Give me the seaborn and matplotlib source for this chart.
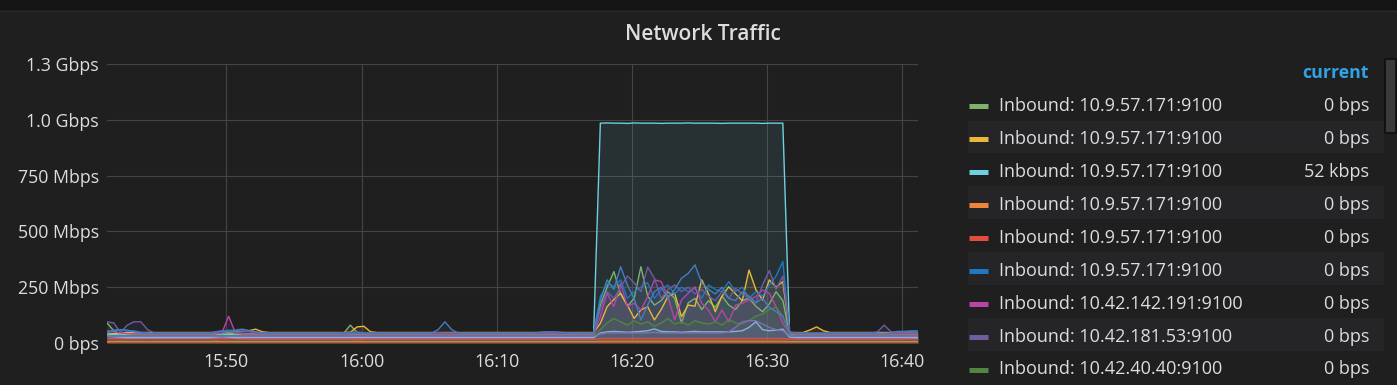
import numpy as np
import pandas as pd
import matplotlib
matplotlib.use("Agg")
import matplotlib.pyplot as plt
import matplotlib.dates as mdates
from matplotlib.patches import Rectangle
from matplotlib.lines import Line2D
import seaborn as sns

# ---------------- data (Mbps, one sample every 30 s) ----------------
times = pd.date_range("2018-06-01 15:41:10", periods=121, freq="30s")

green = [
    90, 55, 40, 38, 40, 42, 40, 38, 38, 38,
    38, 38, 38, 38, 38, 38, 42, 48, 44, 40,
    40, 42, 40, 38, 38, 38, 38, 38, 38, 38,
    38, 38, 38, 38, 38, 42, 80, 48, 40, 38,
    38, 38, 38, 38, 38, 38, 38, 38, 38, 38,
    38, 38, 38, 38, 38, 38, 38, 38, 38, 38,
    38, 38, 38, 38, 38, 40, 40, 38, 38, 38,
    38, 38, 38, 170, 250, 320, 220, 165, 200, 342,
    210, 170, 190, 230, 200, 90, 180, 200, 150, 190,
    160, 210, 170, 150, 190, 200, 165, 140, 175, 230,
    190, 40, 38, 38, 38, 38, 38, 38, 38, 38,
    38, 38, 38, 38, 38, 38, 38, 38, 38, 38,
    40]
yellow = [
    40, 42, 44, 47, 47, 47, 47, 47, 47, 47,
    47, 47, 47, 47, 47, 47, 47, 50, 48, 50,
    52, 55, 62, 50, 47, 47, 47, 47, 47, 47,
    47, 47, 47, 47, 47, 47, 48, 72, 75, 50,
    47, 47, 47, 47, 47, 47, 47, 47, 47, 47,
    47, 47, 47, 47, 47, 47, 47, 47, 47, 47,
    47, 47, 47, 47, 47, 47, 47, 47, 47, 47,
    47, 47, 47, 88, 163, 195, 223, 170, 110, 148,
    163, 103, 150, 208, 223, 118, 170, 165, 283, 220,
    140, 210, 252, 220, 190, 327, 240, 193, 283, 250,
    275, 47, 47, 47, 58, 72, 55, 47, 47, 47,
    47, 47, 47, 47, 47, 47, 47, 47, 47, 47,
    47]
cyan = [
    36, 38, 40, 38, 36, 36, 36, 36, 36, 36,
    36, 36, 36, 36, 36, 36, 38, 40, 38, 36,
    36, 36, 36, 36, 36, 36, 36, 36, 36, 36,
    36, 36, 36, 36, 36, 36, 36, 38, 36, 36,
    36, 36, 36, 36, 36, 36, 36, 36, 36, 36,
    36, 36, 36, 36, 36, 36, 36, 36, 36, 36,
    36, 36, 36, 36, 36, 36, 36, 36, 36, 36,
    36, 36, 38, 985, 986, 985, 985, 984, 986, 985,
    985, 985, 984, 985, 985, 985, 986, 985, 985, 985,
    985, 984, 985, 985, 985, 985, 985, 984, 985, 985,
    985, 40, 36, 36, 36, 36, 36, 36, 36, 36,
    36, 36, 36, 36, 36, 36, 36, 36, 36, 36,
    36]
orange = [
    6, 6, 7, 6, 6, 6, 5, 6, 6, 6,
    6, 6, 6, 6, 6, 6, 7, 6, 6, 6,
    6, 6, 6, 6, 6, 6, 6, 6, 6, 6,
    6, 6, 6, 6, 6, 6, 6, 7, 6, 6,
    6, 6, 6, 6, 6, 6, 6, 6, 6, 6,
    6, 6, 6, 6, 6, 6, 6, 6, 6, 6,
    6, 6, 6, 6, 6, 6, 6, 6, 6, 6,
    6, 6, 6, 7, 7, 7, 7, 7, 7, 7,
    7, 7, 7, 7, 7, 7, 7, 7, 7, 7,
    7, 7, 7, 7, 7, 7, 7, 7, 7, 7,
    7, 6, 6, 6, 6, 6, 6, 6, 6, 6,
    6, 6, 6, 6, 6, 6, 6, 6, 6, 6,
    6]
red = [
    20, 20, 20, 20, 20, 20, 20, 20, 20, 20,
    20, 20, 20, 20, 20, 20, 20, 20, 20, 20,
    18, 17, 17, 17, 17, 17, 17, 17, 17, 17,
    17, 17, 17, 17, 17, 17, 17, 17, 17, 17,
    17, 17, 17, 17, 17, 17, 17, 17, 17, 17,
    17, 17, 17, 17, 17, 17, 17, 17, 17, 17,
    17, 17, 17, 17, 17, 17, 17, 17, 17, 17,
    17, 17, 17, 20, 20, 20, 20, 20, 20, 20,
    20, 20, 20, 20, 20, 20, 20, 20, 20, 20,
    20, 20, 20, 20, 20, 20, 20, 20, 20, 20,
    20, 17, 17, 17, 17, 17, 17, 17, 17, 17,
    17, 17, 17, 17, 17, 17, 17, 17, 18, 18,
    18]
blue = [
    50, 58, 60, 52, 55, 48, 44, 42, 42, 42,
    42, 42, 42, 42, 42, 42, 48, 52, 58, 55,
    60, 52, 48, 44, 42, 42, 42, 42, 42, 42,
    42, 42, 42, 42, 42, 42, 44, 46, 44, 42,
    42, 42, 42, 42, 42, 42, 42, 42, 42, 42,
    42, 42, 42, 42, 42, 42, 42, 42, 42, 42,
    42, 42, 42, 42, 46, 48, 48, 46, 44, 42,
    42, 42, 42, 208, 267, 252, 283, 200, 230, 250,
    270, 200, 240, 260, 220, 250, 230, 245, 200, 260,
    240, 230, 275, 230, 250, 200, 230, 210, 260, 300,
    365, 44, 42, 42, 42, 42, 42, 42, 42, 42,
    42, 42, 42, 42, 42, 42, 42, 50, 50, 52,
    52]
magenta = [
    55, 50, 45, 42, 40, 40, 40, 40, 40, 40,
    40, 40, 40, 40, 40, 40, 40, 45, 120, 45,
    40, 40, 40, 40, 40, 40, 40, 40, 40, 40,
    40, 40, 40, 40, 40, 40, 40, 40, 40, 40,
    40, 40, 40, 40, 40, 40, 40, 40, 40, 40,
    40, 40, 40, 40, 40, 40, 40, 40, 40, 40,
    40, 40, 40, 40, 40, 40, 40, 40, 40, 40,
    40, 40, 40, 118, 223, 163, 267, 163, 178, 148,
    208, 283, 275, 208, 103, 193, 223, 252, 178, 148,
    95, 148, 95, 170, 178, 193, 208, 237, 223, 163,
    88, 42, 40, 40, 40, 40, 40, 40, 40, 40,
    40, 40, 40, 40, 40, 40, 40, 40, 40, 40,
    40]
purple = [
    95, 90, 48, 80, 95, 95, 60, 45, 45, 45,
    45, 45, 45, 45, 45, 45, 46, 48, 50, 48,
    50, 52, 46, 45, 45, 45, 45, 45, 45, 45,
    45, 45, 45, 45, 45, 46, 48, 50, 46, 45,
    45, 45, 45, 45, 45, 45, 45, 45, 45, 46,
    45, 45, 45, 45, 45, 45, 45, 45, 45, 45,
    45, 45, 45, 45, 45, 46, 46, 45, 45, 45,
    45, 45, 45, 150, 230, 200, 250, 300, 270, 230,
    340, 290, 200, 240, 260, 230, 250, 220, 240, 210,
    190, 230, 200, 245, 220, 200, 180, 260, 325, 240,
    300, 50, 45, 45, 45, 45, 45, 45, 45, 45,
    45, 45, 45, 45, 50, 80, 50, 45, 45, 45,
    46]
dkgreen = [
    33, 33, 33, 33, 33, 33, 33, 33, 33, 33,
    33, 33, 33, 33, 33, 33, 33, 33, 33, 33,
    33, 33, 33, 33, 33, 33, 33, 33, 33, 33,
    33, 33, 33, 33, 33, 33, 33, 33, 33, 33,
    33, 33, 33, 33, 33, 33, 33, 33, 33, 33,
    33, 33, 33, 33, 33, 33, 33, 33, 33, 33,
    33, 33, 33, 33, 33, 33, 33, 33, 33, 33,
    33, 33, 33, 60, 90, 110, 95, 80, 100, 85,
    95, 75, 90, 110, 85, 95, 80, 100, 90, 85,
    95, 80, 105, 90, 85, 100, 120, 130, 150, 160,
    120, 35, 33, 33, 33, 33, 33, 33, 33, 33,
    33, 33, 33, 33, 33, 33, 33, 33, 33, 33,
    33]
dkyellow = [
    4, 4, 4, 4, 4, 4, 4, 4, 4, 4,
    4, 4, 4, 4, 4, 4, 4, 4, 4, 4,
    4, 4, 4, 4, 4, 4, 4, 4, 4, 4,
    4, 4, 4, 4, 4, 4, 4, 4, 4, 4,
    4, 4, 4, 4, 4, 4, 4, 4, 4, 4,
    4, 4, 4, 4, 4, 4, 4, 4, 4, 4,
    4, 4, 4, 4, 4, 4, 4, 4, 4, 4,
    4, 4, 4, 4, 4, 4, 4, 4, 4, 4,
    4, 4, 4, 4, 4, 4, 4, 4, 4, 4,
    4, 4, 4, 4, 4, 4, 4, 4, 4, 4,
    4, 4, 4, 4, 4, 4, 4, 4, 4, 4,
    4, 4, 4, 4, 4, 4, 4, 4, 4, 4,
    4]
steel = [
    45, 55, 60, 58, 50, 46, 44, 44, 44, 44,
    44, 44, 44, 44, 44, 44, 50, 55, 52, 58,
    62, 56, 50, 46, 44, 44, 44, 44, 44, 44,
    44, 44, 44, 44, 44, 44, 44, 44, 44, 44,
    44, 44, 44, 44, 44, 44, 44, 44, 44, 60,
    95, 60, 44, 44, 44, 44, 44, 44, 44, 44,
    44, 44, 44, 44, 48, 50, 50, 48, 46, 44,
    44, 44, 44, 190, 283, 240, 342, 260, 200, 103,
    170, 230, 250, 200, 240, 290, 312, 350, 270, 240,
    220, 250, 200, 190, 230, 210, 180, 200, 160, 140,
    120, 46, 44, 44, 44, 44, 44, 44, 44, 44,
    44, 44, 44, 44, 44, 44, 46, 52, 52, 54,
    54]
dkorange = [
    2, 2, 2, 2, 2, 2, 2, 2, 2, 2,
    2, 2, 2, 2, 2, 2, 2, 2, 2, 2,
    2, 2, 2, 2, 2, 2, 2, 2, 2, 2,
    2, 2, 2, 2, 2, 2, 2, 2, 2, 2,
    2, 2, 2, 2, 2, 2, 2, 2, 2, 2,
    2, 2, 2, 2, 2, 2, 2, 2, 2, 2,
    2, 2, 2, 2, 2, 2, 2, 2, 2, 2,
    2, 2, 2, 3, 3, 3, 3, 3, 3, 3,
    3, 3, 3, 3, 3, 3, 3, 3, 3, 3,
    3, 3, 3, 3, 3, 3, 3, 3, 3, 3,
    3, 2, 2, 2, 2, 2, 2, 2, 2, 2,
    2, 2, 2, 2, 2, 2, 2, 2, 2, 2,
    2]
paleblue = [
    30, 28, 26, 24, 24, 24, 24, 24, 24, 24,
    24, 24, 24, 24, 24, 24, 26, 28, 26, 24,
    24, 24, 24, 24, 24, 24, 24, 24, 24, 24,
    24, 24, 24, 24, 24, 24, 24, 24, 24, 24,
    24, 24, 24, 24, 24, 24, 24, 24, 24, 24,
    24, 24, 24, 24, 24, 24, 24, 24, 24, 24,
    24, 24, 24, 24, 24, 24, 24, 24, 24, 24,
    24, 24, 24, 45, 50, 52, 50, 48, 50, 52,
    55, 63, 52, 50, 50, 48, 50, 52, 50, 50,
    50, 50, 50, 52, 55, 70, 95, 60, 55, 58,
    62, 26, 24, 24, 24, 24, 24, 24, 24, 24,
    24, 24, 24, 24, 24, 24, 24, 24, 24, 24,
    24]
violet = [
    30, 30, 30, 30, 30, 30, 30, 30, 30, 30,
    30, 30, 30, 30, 30, 30, 30, 30, 30, 30,
    30, 30, 30, 30, 30, 30, 30, 30, 30, 30,
    30, 30, 30, 30, 30, 30, 30, 30, 30, 30,
    30, 30, 30, 30, 30, 30, 30, 30, 30, 30,
    30, 30, 30, 30, 30, 30, 30, 30, 30, 30,
    30, 30, 30, 30, 30, 30, 30, 30, 30, 30,
    30, 30, 30, 40, 45, 45, 45, 45, 45, 45,
    45, 48, 45, 45, 45, 45, 45, 45, 45, 45,
    45, 45, 50, 70, 95, 100, 100, 85, 70, 60,
    55, 32, 30, 30, 30, 30, 30, 30, 30, 30,
    30, 30, 30, 30, 30, 30, 30, 30, 30, 30,
    30]

series_ids = ["s01", "s02", "s03", "s04", "s05", "s06", "s07", "s08",
              "s09", "s10", "s11", "s12", "s13", "s14"]
series_values = [green, yellow, cyan, orange, red, blue, magenta, purple,
                 dkgreen, dkyellow, steel, dkorange, paleblue, violet]
series_colors = ["#7EB26D", "#EAB839", "#6ED0E0", "#EF843C", "#E24D42",
                 "#1F78C1", "#BA43A9", "#705DA0", "#508642", "#CCA300",
                 "#447EBC", "#C15C17", "#82B5D8", "#806EB7"]
legend_labels = ["Inbound: 10.9.57.171:9100", "Inbound: 10.9.57.171:9100",
                 "Inbound: 10.9.57.171:9100", "Inbound: 10.9.57.171:9100",
                 "Inbound: 10.9.57.171:9100", "Inbound: 10.9.57.171:9100",
                 "Inbound: 10.42.142.191:9100", "Inbound: 10.42.181.53:9100",
                 "Inbound: 10.42.40.40:9100"]
legend_current = ["0 bps", "0 bps", "52 kbps", "0 bps", "0 bps", "0 bps",
                  "0 bps", "0 bps", "0 bps"]
ytick_vals = [0, 250e6, 500e6, 750e6, 1.0e9, 1.25e9]
ytick_labels = ["0 bps", "250 Mbps", "500 Mbps", "750 Mbps", "1.0 Gbps", "1.3 Gbps"]

# ---------------- styling ----------------
BG = "#1f1f20"
TXT = "#dcdddf"
GRID = "#444444"
BAND = "#252527"

sns.set_theme(style="dark")
plt.rcParams["font.family"] = ["Open Sans", "DejaVu Sans"]

df = pd.concat(
    [pd.DataFrame({"time": times, "bps": np.array(v, dtype=float) * 1e6, "series": sid})
     for sid, v in zip(series_ids, series_values)],
    ignore_index=True)

W, H = 1397, 385
fig = plt.figure(figsize=(W / 100, H / 100), dpi=100, facecolor=BG)

# top strip
fig.patches.append(Rectangle((0, 1 - 10 / H), 1, 10 / H, transform=fig.transFigure,
                             facecolor="#141414", edgecolor="none", zorder=0))
fig.lines.append(Line2D([0, 1], [1 - 10.5 / H] * 2, transform=fig.transFigure,
                        color="#2a2a2a", lw=0.8))

ax = fig.add_axes([107 / W, 1 - 343 / H, (918 - 107) / W, (343 - 64) / H])
ax.set_facecolor(BG)

for sid, c in zip(series_ids, series_colors):
    sub = df[df["series"] == sid]
    ax.fill_between(sub["time"], sub["bps"], 0, color=c, alpha=0.1, lw=0, zorder=1)

sns.lineplot(data=df, x="time", y="bps", hue="series", hue_order=series_ids,
             palette=dict(zip(series_ids, series_colors)), estimator=None,
             legend=False, lw=1.0, ax=ax, zorder=2)

ax.set_ylim(0, 1.25e9)
ax.set_yticks(ytick_vals)
ax.set_yticklabels(ytick_labels)
ax.set_xlim(times[0], times[-1])
ax.xaxis.set_major_locator(mdates.MinuteLocator(byminute=range(0, 60, 10)))
ax.xaxis.set_major_formatter(mdates.DateFormatter("%H:%M"))
ax.tick_params(axis="both", length=0, colors=TXT, labelsize=12.8)
ax.tick_params(axis="y", pad=6)
ax.tick_params(axis="x", pad=7)
for lab in ax.get_xticklabels() + ax.get_yticklabels():
    lab.set_fontweight("medium")
ax.grid(True, color=GRID, lw=0.8)
ax.set_axisbelow(True)
for s in ax.spines.values():
    s.set_visible(False)
ax.set_xlabel("")
ax.set_ylabel("")

fig.text(703 / W, 1 - 35 / H, "Network Traffic", ha="center", va="center",
         fontsize=15, fontweight="semibold", color=TXT)

# legend table
fig.text(1369 / W, 1 - 73 / H, "current", ha="right", va="center",
         fontsize=12.8, fontweight="bold", color="#33A2E5")
step = 32.93
for k, (lab, cur) in enumerate(zip(legend_labels, legend_current)):
    yc = 104 + step * k
    if k % 2 == 1:
        fig.patches.append(Rectangle((968 / W, 1 - (yc + 16.4) / H), (1384 - 968) / W, 32.8 / H,
                                     transform=fig.transFigure, facecolor=BAND,
                                     edgecolor="none", zorder=0))
    fig.lines.append(Line2D([969 / W, 988 / W], [1 - (yc + 2.5) / H] * 2,
                            transform=fig.transFigure, color=series_colors[k], lw=3.6,
                            solid_capstyle="butt"))
    fig.text(999 / W, 1 - (yc + 7) / H, lab, ha="left", va="baseline",
             fontsize=13, fontweight="medium", color=TXT)
    fig.text(1369 / W, 1 - (yc + 7) / H, cur, ha="right", va="baseline",
             fontsize=13, fontweight="medium", color=TXT)

# scrollbar
fig.patches.append(Rectangle((1384.5 / W, 1 - 133 / H), 11 / W, 74 / H,
                             transform=fig.transFigure, facecolor="#3a3a3a",
                             edgecolor="#0e0e0e", lw=1.2))

fig.savefig("out.png", dpi=100, facecolor=BG)
